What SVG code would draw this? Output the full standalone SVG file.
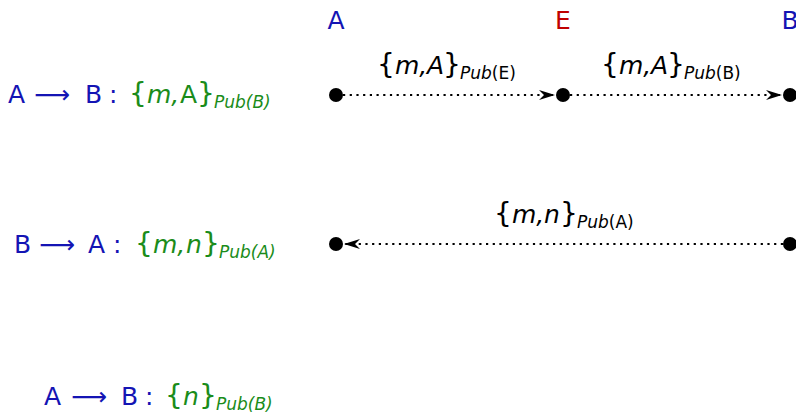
<svg xmlns="http://www.w3.org/2000/svg" width="796" height="414" viewBox="0 0 796 414">
<defs>
<style>
text{font-family:"DejaVu Sans","Liberation Sans",sans-serif;font-size:25px}
.b{fill:#1414b4}.r{fill:#c00000}.g{fill:#1a8c1a}.k{fill:#000}
.s{font-size:17px;font-style:italic}
.i{font-style:italic}
.u{font-style:normal}
.br{font-size:28px}
.e{stroke:#000;stroke-width:2.2;stroke-dasharray:2.2 4.5;fill:none}
.n{fill:#000}
</style>
<marker id="ah" viewBox="0 0 16 10" refX="16" refY="5" markerWidth="16" markerHeight="10" markerUnits="userSpaceOnUse" orient="auto">
<path d="M0,0 L16,5 L0,10 L5,5 Z" fill="#000"/>
</marker>
</defs>
<g id="labels">
<text x="336" y="29" text-anchor="middle" class="b">A</text>
<text x="563" y="29" text-anchor="middle" class="r">E</text>
<text x="790" y="29" text-anchor="middle" class="b">B</text>
</g>
<g id="rule1">
<text x="8" y="103" class="b">A<tspan x="34">⟶</tspan><tspan x="85">B</tspan><tspan x="109">:</tspan></text>
<text x="129" y="103" class="g"><tspan class="br">{</tspan><tspan x="147" class="i">m,</tspan><tspan x="180">A</tspan><tspan x="197" class="br">}</tspan><tspan x="214" dy="5" class="s">Pub(B)</tspan></text>
</g>
<g id="rule2">
<text x="14" y="253" class="b">B<tspan x="39">⟶</tspan><tspan x="88">A</tspan><tspan x="113">:</tspan></text>
<text x="135" y="253" class="g"><tspan class="br">{</tspan><tspan x="153" class="i">m,</tspan><tspan x="186" class="i">n</tspan><tspan x="202" class="br">}</tspan><tspan x="219" dy="5" class="s">Pub(A)</tspan></text>
</g>
<g id="rule3">
<text x="44" y="405" class="b">A<tspan x="71">⟶</tspan><tspan x="121">B</tspan><tspan x="145">:</tspan></text>
<text x="165" y="405" class="g"><tspan class="br">{</tspan><tspan x="183" class="i">n</tspan><tspan x="199" class="br">}</tspan><tspan x="216" dy="5" class="s">Pub(B)</tspan></text>
</g>
<g id="connectors">
<line class="e" x1="343" y1="95" x2="555" y2="95" marker-end="url(#ah)"/>
<line class="e" x1="570" y1="95" x2="782" y2="95" marker-end="url(#ah)"/>
<line class="e" x1="783" y1="244" x2="344" y2="244" marker-end="url(#ah)"/>
<text x="377" y="74" class="k"><tspan class="br">{</tspan><tspan x="395" class="i">m,</tspan><tspan x="427" class="i">A</tspan><tspan x="443" class="br">}</tspan><tspan x="460" dy="5" class="s">Pub<tspan class="u">(E)</tspan></tspan></text>
<text x="601" y="74" class="k"><tspan class="br">{</tspan><tspan x="619" class="i">m,</tspan><tspan x="651" class="i">A</tspan><tspan x="667" class="br">}</tspan><tspan x="684" dy="5" class="s">Pub<tspan class="u">(B)</tspan></tspan></text>
<text x="494" y="223" class="k"><tspan class="br">{</tspan><tspan x="512" class="i">m,</tspan><tspan x="544" class="i">n</tspan><tspan x="560" class="br">}</tspan><tspan x="577" dy="5" class="s">Pub<tspan class="u">(A)</tspan></tspan></text>
</g>
<g id="nodeA1"><circle cx="336" cy="95" r="7" class="n"/></g>
<g id="nodeE1"><circle cx="563" cy="95" r="7" class="n"/></g>
<g id="nodeB1"><circle cx="790" cy="95" r="7" class="n"/></g>
<g id="nodeA2"><circle cx="336" cy="244" r="7" class="n"/></g>
<g id="nodeB2"><circle cx="790" cy="244" r="7" class="n"/></g>
</svg>
